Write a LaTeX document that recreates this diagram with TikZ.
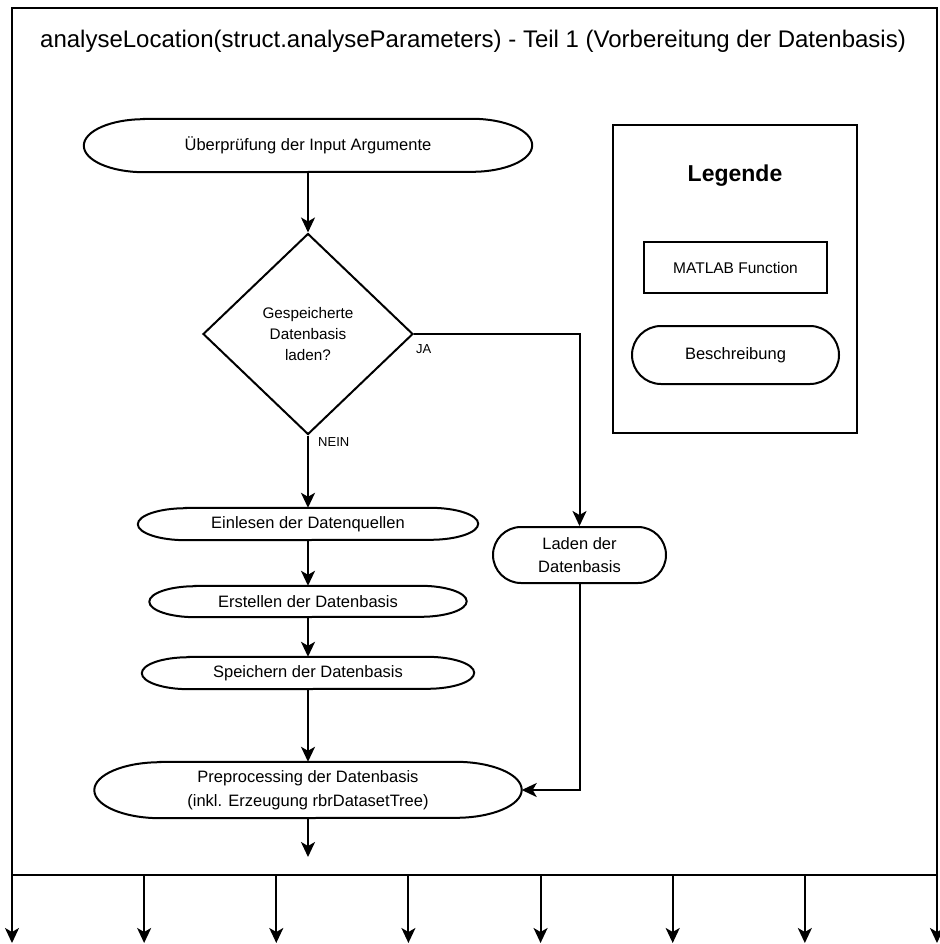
\documentclass[tikz,border=0pt]{standalone}
\usepackage{fontspec}
\setmainfont{Liberation Sans}
\usetikzlibrary{arrows.meta, shapes.geometric, positioning}

\begin{document}
\begin{tikzpicture}[x=1pt, y=-1pt,
  conn/.style={line width=2pt},
  outerframe/.style={line width=2.7pt},
  term/.style={rectangle, inner sep=0pt, align=center, font=\fontsize{16.5}{24}\selectfont},
  stadium/.style={rectangle, draw, line width=2pt, rounded corners=#1, inner sep=0pt,
                  align=center, font=\fontsize{16.5}{23}\selectfont},
  fn/.style={rectangle, draw, line width=2pt, inner sep=0pt, font=\fontsize{15.5}{19}\selectfont},
  decision/.style={diamond, draw, line width=2pt, inner sep=0pt, align=center,
                   font=\fontsize{15.3}{21}\selectfont},
  lbl/.style={inner sep=0pt, font=\fontsize{13}{15}\selectfont},
  arrow/.style={-{Stealth[length=15pt, width=14pt, inset=4pt]}, line width=2pt},
]
\useasboundingbox (0,0) rectangle (939,944);

% outer frame and title
\draw[outerframe] (12,8) rectangle (937,875);
\node[anchor=base west, inner sep=0pt, font=\fontsize{24}{28}\selectfont] (title) at (40,47.5)
  {analyseLocation(struct.analyseParameters) - Teil 1 (Vorbereitung der Datenbasis)};

% flow
\node[term, minimum width=448pt, minimum height=53pt] (pruef) at (308,145.5) {Überprüfung der Input Argumente};
\node[decision, minimum width=210pt, minimum height=201pt] (decide) at (308,334)
  {Gespeicherte\\Datenbasis\\laden?};
\node[term, minimum width=340pt, minimum height=32pt] (einlesen)  at (308,524)   {Einlesen der Datenquellen};
\node[term, minimum width=317pt, minimum height=31pt] (erstellen) at (308,601.5) {Erstellen der Datenbasis};
\node[term, minimum width=332pt, minimum height=32pt] (speichern) at (308,673)   {Speichern der Datenbasis};
\node[term, minimum width=427pt, minimum height=56pt] (preproc)   at (308,790)
  {Preprocessing der Datenbasis\\(inkl. Erzeugung rbrDatasetTree)};
\node[stadium=28pt, minimum width=173pt, minimum height=56pt] (laden) at (579.5,555) {Laden der\\Datenbasis};

% oval outlines
\foreach \nd/\rx/\ry in {pruef/60/26.5, einlesen/48/16, erstellen/46/15.5, speichern/47/16, preproc/66/28}
  \draw[conn] ([xshift=\rx pt]\nd.north west) -- ([xshift=-\rx pt]\nd.north east)
    arc[start angle=90, end angle=-90, x radius=\rx pt, y radius=\ry pt]
    -- ([xshift=\rx pt]\nd.south west)
    arc[start angle=270, end angle=90, x radius=\rx pt, y radius=\ry pt] -- cycle;

\node[lbl, anchor=north west] (nein) at ([xshift=10pt, yshift=-2pt]decide.south) {NEIN};
\node[lbl, anchor=north west] (ja)   at ([xshift=2pt, yshift=-10pt]decide.east)  {JA};

\draw[arrow] (pruef) -- (decide);
\draw[arrow] (decide) -- (einlesen);
\draw[arrow] (einlesen) -- (erstellen);
\draw[arrow] (erstellen) -- (speichern);
\draw[arrow] (speichern) -- (preproc);
\draw[arrow] (decide.east) -| (laden.north);
\draw[arrow] (laden.south) |- (preproc.east);
\coordinate (exit) at (308,857);
\draw[arrow] (preproc) -- (exit);

% outputs
\foreach \i in {0,...,7} {
  \coordinate (bus\i) at (12+132.14*\i,875);
  \coordinate (out\i) at (12+132.14*\i,943);
  \draw[arrow] (bus\i) -- (out\i);
}

% legend
\node[draw, line width=2pt, minimum width=244pt, minimum height=308pt, inner sep=0pt] (legend) at (735,279) {};
\node[anchor=base, inner sep=0pt, font=\bfseries\fontsize{23}{27}\selectfont] (legtitle) at (735,182) {Legende};
\node[fn, minimum width=183pt, minimum height=51pt] (legfn) at (735.5,267.5) {MATLAB Function};
\node[stadium=29pt, minimum width=207pt, minimum height=58pt] (legterm) at (735.5,355) {Beschreibung};
\end{tikzpicture}
\end{document}
